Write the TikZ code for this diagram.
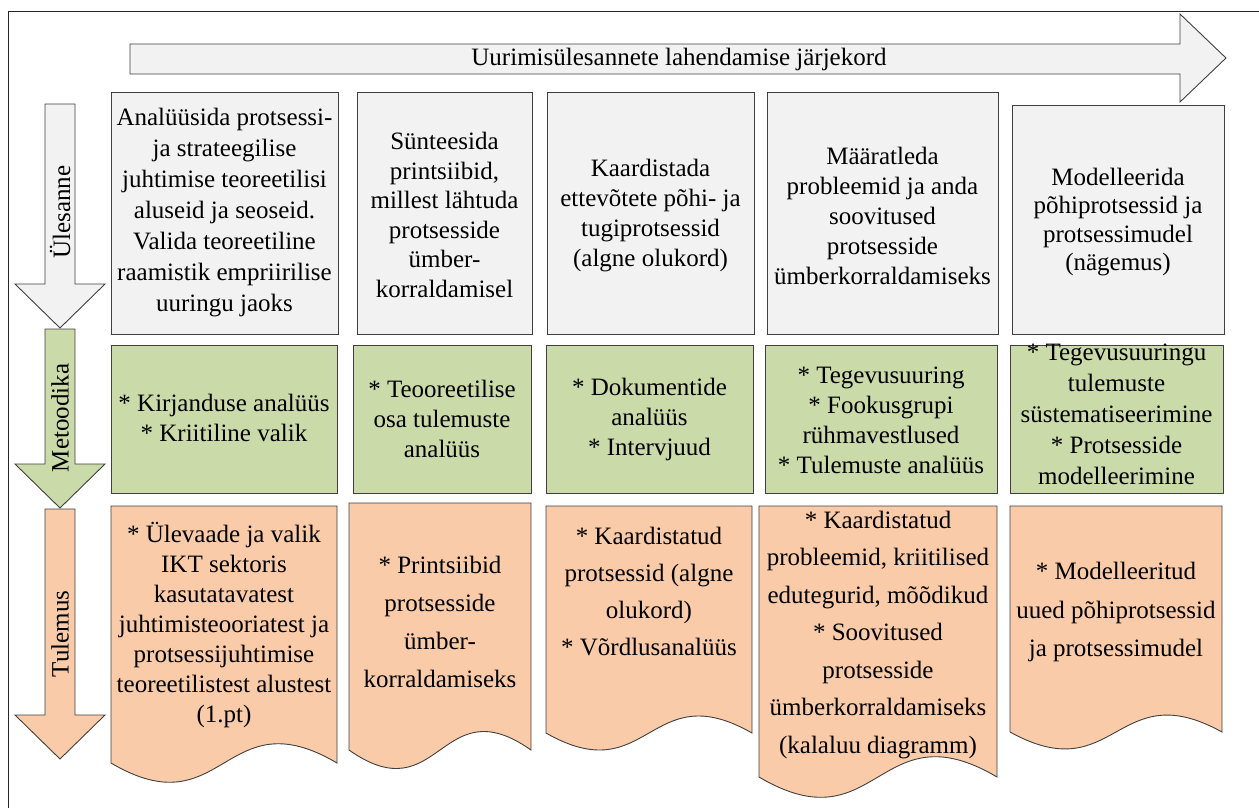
\documentclass[tikz,border=0pt]{standalone}
\usepackage{fontspec}
\setmainfont{Liberation Serif}
\newfontfamily\labelface{Liberation Serif}
\begin{document}
\definecolor{taskfill}{HTML}{F2F2F2}
\definecolor{methfill}{HTML}{CBDAA9}
\definecolor{resfill}{HTML}{F9CBA8}
\definecolor{edge}{HTML}{404040}
\tikzset{
  shapeline/.style={draw=edge, line width=0.9pt},
  taskbox/.style={shapeline, fill=taskfill, rectangle, inner sep=0pt},
  methbox/.style={shapeline, fill=methfill, rectangle, inner sep=0pt},
  resbox/.style={shapeline, fill=resfill},
  txt/.style={align=center, inner sep=0pt, font=\labelface\fontsize{25}{30}\selectfont},
  sidelabel/.style={inner sep=0pt, rotate=90, font=\labelface\fontsize{25}{30}\selectfont},
}
% rectangle node from its corner coordinates: name, style, x1, x2, top, bottom
\newcommand\cornerbox[6]{%
  \node[#2, minimum width={(#4)-(#3)}, minimum height={(#6)-(#5)}]
    (#1) at ({((#3)+(#4))/2},{((#5)+(#6))/2}) {};}
% document shape with a wavy lower edge: x1, x2, top, side bottom
\newcommand\docbox[4]{%
  \pgfmathsetmacro\dmid{((#1)+(#2))/2}%
  \pgfmathsetmacro\damp{((#4)-(#3))*0.075/0.289}%
  \draw[resbox] (#1,#3) -- (#2,#3) -- (#2,#4)
    .. controls (\dmid,{(#4)-\damp}) and (\dmid,{(#4)+\damp}) .. (#1,#4) -- cycle;}
\begin{tikzpicture}[x=1pt, y=-1pt]
\useasboundingbox (0,0) rectangle (1259,807);
% outer frame
\draw[line width=0.9pt, black!85] (8,820) -- (8,11) -- (1270,11);

% sequence arrow
\draw[shapeline, fill=taskfill] (130,44) -- (1180,44) -- (1180,14) -- (1226,58)
  -- (1180,102) -- (1180,74) -- (130,74) -- cycle;
\node[txt] (seq) at (679,59) {Uurimisülesannete lahendamise järjekord};

% row arrows on the left
\draw[shapeline, fill=taskfill] (45,104) -- (75,104) -- (75,284) -- (105,284)
  -- (60,328) -- (15,284) -- (45,284) -- cycle;
\draw[shapeline, fill=methfill] (45,329) -- (75,329) -- (75,464) -- (105,464)
  -- (60,508) -- (15,464) -- (45,464) -- cycle;
\draw[shapeline, fill=resfill] (45,509) -- (75,509) -- (75,715) -- (105,715)
  -- (60,759) -- (15,715) -- (45,715) -- cycle;
\node[sidelabel] (lab1) at (60,212) {Ülesanne};
\node[sidelabel] (lab2) at (60,418) {Metoodika};
\node[sidelabel] (lab3) at (60,634) {Tulemus};

% tasks
\cornerbox{g1}{taskbox}{111}{338}{92}{334}
\cornerbox{g2}{taskbox}{357}{532}{92}{334}
\cornerbox{g3}{taskbox}{547}{754}{92}{334}
\cornerbox{g4}{taskbox}{767}{998}{92}{334}
\cornerbox{g5}{taskbox}{1012}{1224}{105}{334}
\node[txt, font=\labelface\fontsize{25}{31}\selectfont] (t1) at (224.5,213)
  {Analüüsida protsessi-\\ja strateegilise\\juhtimise teoreetilisi\\aluseid ja seoseid.\\Valida teoreetiline\\raamistik empriirilise\\uuringu jaoks};
\node[txt, font=\labelface\fontsize{25}{29.5}\selectfont] (t2) at (444.5,215)
  {Sünteesida\\printsiibid,\\millest lähtuda\\protsesside\\ümber-\\korraldamisel};
\node[txt] (t3) at (650.5,216)
  {Kaardistada\\ettevõtete põhi- ja\\tugiprotsessid\\(algne olukord)};
\node[txt] (t4) at (882.5,216)
  {Määratleda\\probleemid ja anda\\soovitused\\protsesside\\ümberkorraldamiseks};
\node[txt, font=\labelface\fontsize{25}{28.5}\selectfont] (t5) at (1118,222)
  {Modelleerida\\põhiprotsessid ja\\protsessimudel\\(nägemus)};

% methods
\cornerbox{m1}{methbox}{111}{337}{345}{493}
\cornerbox{m2}{methbox}{353}{531}{345}{493}
\cornerbox{m3}{methbox}{546}{753}{345}{493}
\cornerbox{m4}{methbox}{765}{997}{345}{493}
\cornerbox{m5}{methbox}{1010}{1223}{345}{493}
\node[txt] (k1) at (224,418) {* Kirjanduse analüüs\\* Kriitiline valik};
\node[txt] (k2) at (442,419) {* Teooreetilise\\osa tulemuste\\analüüs};
\node[txt] (k3) at (649.5,419) {* Dokumentide\\analüüs\\* Intervjuud};
\node[txt] (k4) at (881,420) {* Tegevusuuring\\* Fookusgrupi\\rühmavestlused\\* Tulemuste analüüs};
\node[txt, font=\labelface\fontsize{25}{31}\selectfont] (k5) at (1116.5,414)
  {* Tegevusuuringu\\tulemuste\\süstematiseerimine\\* Protsesside\\modelleerimine};

% results
\docbox{111}{337}{506}{763}
\docbox{349}{531}{503}{750}
\docbox{546}{752}{506}{733}
\docbox{759}{997}{506}{777}
\docbox{1010}{1222}{506}{732}
\node[txt] (r1) at (224,625)
  {* Ülevaade ja valik\\IKT sektoris\\kasutatavatest\\juhtimisteooriatest ja\\protsessijuhtimise\\teoreetilistest alustest\\(1.pt)};
\node[txt, font=\labelface\fontsize{25}{38}\selectfont] (r2) at (440,622)
  {* Printsiibid\\protsesside\\ümber-\\korraldamiseks};
\node[txt, font=\labelface\fontsize{25}{37}\selectfont] (r3) at (649,592)
  {* Kaardistatud\\protsessid (algne\\olukord)\\* Võrdlusanalüüs};
\node[txt, font=\labelface\fontsize{25}{37.5}\selectfont] (r4) at (878,635)
  {* Kaardistatud\\probleemid, kriitilised\\edutegurid, mõõdikud\\* Soovitused\\protsesside\\ümberkorraldamiseks\\(kalaluu diagramm)};
\node[txt, font=\labelface\fontsize{25}{38.5}\selectfont] (r5) at (1116,612)
  {* Modelleeritud\\uued põhiprotsessid\\ja protsessimudel};
\end{tikzpicture}
\end{document}
